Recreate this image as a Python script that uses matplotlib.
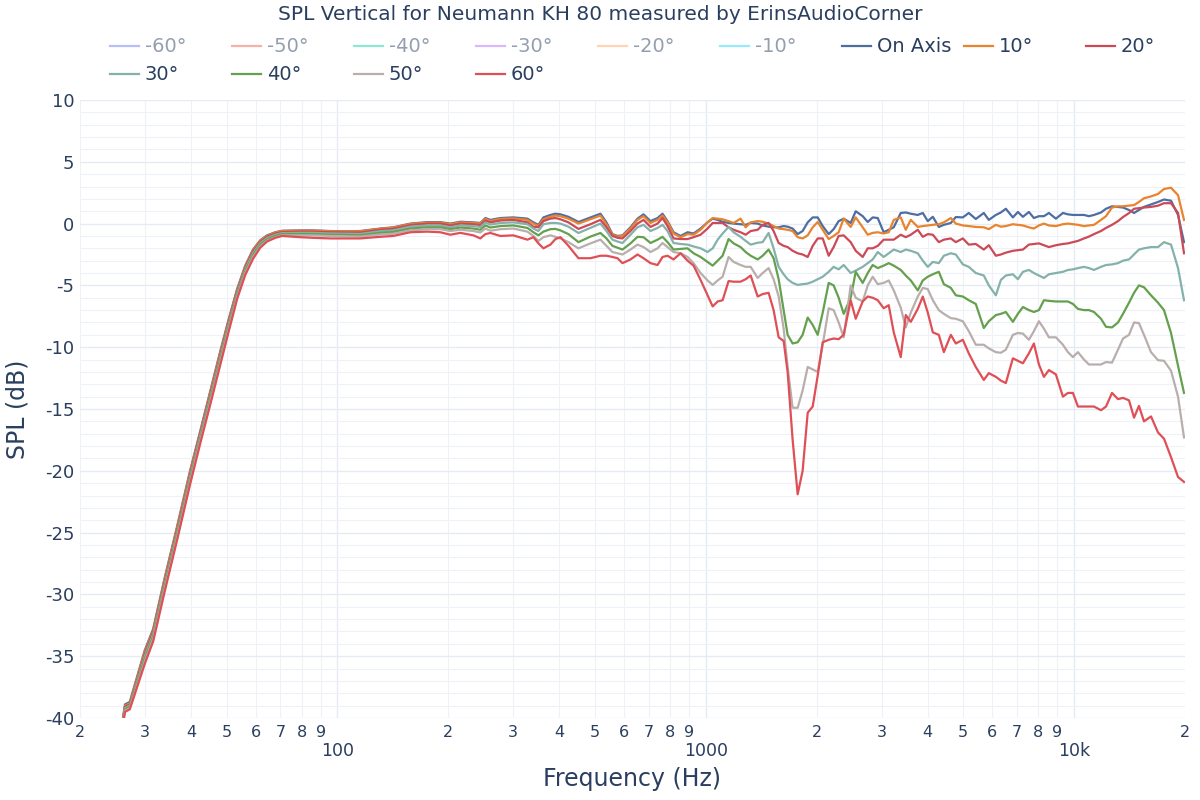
import matplotlib.pyplot as plt
from matplotlib.lines import Line2D

# frequency grid (Hz)
freq = [
    26.2, 26.5, 27.3, 30.0, 31.6, 34.0, 36.7, 39.8, 42.4, 45.1,
    48.0, 50.5, 53.4, 56.2, 59.0, 61.7, 64.4, 67.8, 70.8, 79.2,
    85.9, 95.6, 105.0, 115.3, 130.7, 141.8, 157.7, 175.4, 190.2, 202.5,
    215.6, 233.9, 244.3, 252.1, 260.1, 276.9, 300.3, 327.9, 340.4, 351.2,
    362.4, 378.6, 390.7, 403.1, 423.8, 451.1, 486.3, 517.6,
    537.4, 558, 575.8, 594.1, 624.6, 652.5, 677.5, 707.8, 739.6, 763.1,
    787.3, 817.4, 854.1, 892.3, 926.5, 968, 1011, 1044, 1077, 1111,
    1153, 1190, 1243, 1283, 1324, 1383, 1427, 1481, 1528, 1577,
    1627, 1668, 1721, 1776, 1832, 1891, 1951, 2013, 2077, 2156,
    2224, 2295, 2368, 2474, 2553, 2667, 2752, 2839, 2930, 3041,
    3138, 3238, 3383, 3491, 3602, 3763, 3883, 4006, 4134, 4292,
    4429, 4627, 4773, 4987, 5176, 5408, 5686, 5867, 6131, 6325,
    6526, 6819, 7036, 7260, 7537, 7777, 8025, 8280, 8541, 8923,
    9323, 9620, 9926, 10242, 10634, 10973, 11322, 11829, 12206, 12672,
    13156, 13575, 14093, 14543, 14997, 15476, 16170, 16895, 17540, 18326,
    19147, 19875,
]

spl_on_axis = [
    -39.9, -38.9, -38.7, -34.5, -32.8, -28.6, -24.5, -20.0, -16.8, -13.6,
    -10.4, -7.9, -5.3, -3.4, -2.1, -1.35, -0.95, -0.7, -0.58, -0.55,
    -0.55, -0.6, -0.62, -0.6, -0.4, -0.3, 0.0, 0.12, 0.12, 0.0,
    0.15, 0.1, 0.05, 0.45, 0.3, 0.45, 0.5, 0.4, 0.1, -0.1,
    0.5, 0.7, 0.8, 0.75, 0.55, 0.13, 0.5, 0.8,
    0.1, -0.85, -1.0, -0.95, -0.3, 0.4, 0.75, 0.2, 0.45, 0.8,
    0.2, -0.7, -1.0, -0.7, -0.8, -0.4, 0.1, 0.4, 0.3, 0.15,
    0.05, 0.0, -0.05, -0.1, 0.05, 0.0, -0.15, -0.25, -0.3, -0.3,
    -0.2, -0.25, -0.4, -0.85, -0.6, 0.1, 0.5, 0.5, -0.2, -0.85,
    -0.45, 0.2, 0.4, 0.05, 1.0, 0.6, 0.13, 0.5, 0.45, -0.7,
    -0.5, -0.3, 0.86, 0.9, 0.8, 0.7, 0.86, 0.2, 0.55, -0.27,
    -0.1, 0.05, 0.53, 0.5, 0.86, 0.37, 0.86, 0.3, 0.7, 0.9,
    1.2, 0.5, 0.94, 0.55, 0.94, 0.45, 0.6, 0.6, 0.86, 0.4,
    0.86, 0.75, 0.7, 0.7, 0.7, 0.6, 0.7, 0.9, 1.2, 1.4,
    1.35, 1.3, 1.1, 0.86, 1.1, 1.35, 1.55, 1.75, 1.95, 1.85,
    0.7, -1.5,
]

spl_10 = [
    -39.9, -39.0, -38.8, -34.6, -32.9, -28.7, -24.6, -20.1, -16.9, -13.7,
    -10.5, -8.0, -5.4, -3.45, -2.15, -1.4, -1.0, -0.72, -0.6, -0.57,
    -0.57, -0.62, -0.64, -0.62, -0.42, -0.33, -0.03, 0.08, 0.08, -0.05,
    0.1, 0.05, 0.0, 0.38, 0.22, 0.38, 0.42, 0.3, 0.0, -0.2,
    0.35, 0.55, 0.65, 0.6, 0.4, 0.0, 0.35, 0.65,
    -0.05, -0.9, -1.05, -1.0, -0.4, 0.3, 0.6, 0.05, 0.3, 0.65,
    0.1, -0.8, -1.1, -0.85, -0.9, -0.5, 0.1, 0.45, 0.4, 0.35,
    0.2, 0.05, 0.4, -0.3, 0.1, 0.2, 0.15, 0.0, -0.2, -0.4,
    -0.45, -0.5, -0.6, -1.1, -1.2, -0.95, -0.3, 0.13, -0.5, -1.25,
    -1.0, -0.7, 0.4, -0.27, 0.5, -0.3, -0.9, -0.75, -0.7, -0.8,
    -0.7, 0.3, 0.5, -0.5, 0.3, -0.27, -0.2, -0.15, -0.1, -0.05,
    0.1, 0.45, 0.0, -0.15, -0.2, -0.27, -0.3, -0.45, -0.1, -0.25,
    -0.2, -0.05, -0.1, -0.15, -0.3, -0.4, -0.15, 0.0, -0.15, -0.2,
    -0.05, 0.0, -0.05, -0.1, -0.2, -0.15, -0.1, 0.3, 0.6, 1.3,
    1.4, 1.4, 1.45, 1.5, 1.75, 2.05, 2.2, 2.4, 2.8, 2.9,
    2.3, 0.3,
]

spl_20 = [
    -40.0, -39.1, -38.9, -34.8, -33.0, -28.9, -24.8, -20.3, -17.0, -13.9,
    -10.7, -8.1, -5.5, -3.55, -2.25, -1.5, -1.08, -0.8, -0.68, -0.65,
    -0.65, -0.7, -0.72, -0.72, -0.5, -0.42, -0.12, 0.0, 0.0, -0.15,
    0.0, -0.05, -0.12, 0.25, 0.1, 0.25, 0.3, 0.1, -0.25, -0.3,
    0.2, 0.4, 0.45, 0.35, 0.1, -0.43, -0.05, 0.3,
    -0.3, -1.0, -1.15, -1.2, -0.6, 0.0, 0.3, -0.27, 0.0, 0.45,
    -0.2, -1.2, -1.25, -1.25, -1.1, -0.9, -0.4, 0.05, 0.05, 0.05,
    -0.3, -0.5, -0.7, -0.9, -0.6, -0.5, -0.1, 0.05, -0.6, -1.57,
    -1.8, -1.9, -2.2, -2.4, -2.5, -2.7, -1.8, -1.2, -1.2, -2.6,
    -1.9, -1.0, -0.95, -1.5, -2.2, -2.7, -2.0, -2.0, -1.8, -1.3,
    -1.3, -1.3, -0.9, -1.1, -0.9, -0.5, -1.07, -0.85, -0.9, -1.5,
    -1.3, -1.2, -1.5, -1.2, -1.7, -1.65, -2.1, -1.75, -2.6, -2.5,
    -2.35, -2.2, -2.15, -2.1, -1.7, -1.65, -1.6, -1.75, -1.9, -1.75,
    -1.65, -1.6, -1.5, -1.4, -1.2, -1.05, -0.85, -0.6, -0.35, -0.1,
    0.2, 0.53, 0.85, 1.2, 1.25, 1.3, 1.35, 1.45, 1.65, 1.65,
    0.86, -2.4,
]

spl_30 = [
    -40.1, -39.2, -39.0, -35.0, -33.2, -29.1, -25.0, -20.5, -17.2, -14.1,
    -10.9, -8.3, -5.65, -3.7, -2.4, -1.6, -1.18, -0.9, -0.77, -0.75,
    -0.75, -0.8, -0.82, -0.84, -0.62, -0.55, -0.25, -0.15, -0.15, -0.3,
    -0.15, -0.2, -0.28, 0.08, -0.08, 0.05, 0.1, -0.05, -0.4, -0.6,
    -0.05, 0.05, 0.05, 0.0, -0.25, -0.76, -0.35, 0.0,
    -0.6, -1.3, -1.45, -1.57, -0.9, -0.3, -0.1, -0.6, -0.35, -0.1,
    -0.6, -1.57, -1.65, -1.7, -1.85, -2.0, -2.3, -2.0, -1.3, -0.8,
    -0.27, -0.7, -1.07, -1.4, -1.7, -1.55, -1.5, -0.76, -2.0, -3.5,
    -4.1, -4.5, -4.8, -4.96, -4.9, -4.85, -4.7, -4.5, -4.3, -3.9,
    -3.5, -3.7, -3.35, -4.0, -3.8, -3.5, -3.2, -2.9, -2.3, -2.7,
    -2.4, -2.1, -2.3, -2.1, -2.2, -2.4, -3.0, -3.5, -3.1, -3.2,
    -2.6, -2.4, -2.5, -3.3, -3.5, -4.0, -4.2, -5.0, -5.8, -4.56,
    -4.2, -4.1, -4.5, -3.9, -3.75, -4.0, -4.2, -4.4, -4.1, -4.0,
    -3.9, -3.75, -3.7, -3.6, -3.5, -3.6, -3.75, -3.5, -3.35, -3.3,
    -3.2, -3.0, -2.9, -2.5, -2.1, -2.0, -1.9, -1.9, -1.5, -1.7,
    -3.6, -6.2,
]

spl_40 = [
    -40.2, -39.3, -39.1, -35.2, -33.4, -29.3, -25.2, -20.7, -17.4, -14.3,
    -11.1, -8.5, -5.8, -3.85, -2.55, -1.72, -1.28, -1.0, -0.85, -0.85,
    -0.85, -0.9, -0.92, -0.95, -0.75, -0.68, -0.4, -0.3, -0.3, -0.45,
    -0.32, -0.4, -0.5, -0.15, -0.32, -0.2, -0.15, -0.35, -0.7, -0.95,
    -0.65, -0.45, -0.43, -0.55, -0.85, -1.5, -1.05, -0.76,
    -1.2, -1.8, -1.95, -2.1, -1.6, -1.07, -1.1, -1.57, -1.3, -1.07,
    -1.5, -2.1, -2.05, -2.0, -2.4, -2.7, -3.1, -3.4, -3.0, -2.6,
    -1.25, -1.6, -1.9, -2.3, -2.6, -2.9, -2.6, -2.1, -2.8, -4.5,
    -7.0, -9.0, -9.7, -9.6, -9.0, -7.6, -8.2, -9.0, -7.2, -4.8,
    -5.0, -6.0, -7.3, -6.0, -3.9, -4.8, -4.0, -3.35, -3.6, -3.4,
    -3.2, -3.4, -3.75, -4.2, -4.6, -5.4, -4.6, -4.3, -4.1, -3.9,
    -4.9, -5.2, -5.8, -5.9, -6.2, -6.5, -8.45, -7.9, -7.4, -7.3,
    -7.15, -7.95, -7.3, -6.75, -7.0, -7.15, -7.0, -6.2, -6.25, -6.3,
    -6.3, -6.3, -6.5, -6.9, -7.0, -7.0, -7.15, -7.7, -8.35, -8.4,
    -8.0, -7.3, -6.4, -5.6, -5.0, -5.15, -5.8, -6.4, -7.0, -8.85,
    -11.5, -13.7,
]

spl_50 = [
    -40.3, -39.4, -39.2, -35.4, -33.6, -29.5, -25.4, -20.9, -17.6, -14.5,
    -11.3, -8.7, -5.95, -4.0, -2.7, -1.85, -1.38, -1.1, -0.95, -0.95,
    -0.95, -1.0, -1.02, -1.05, -0.88, -0.82, -0.55, -0.45, -0.45, -0.6,
    -0.5, -0.6, -0.72, -0.4, -0.58, -0.45, -0.4, -0.65, -1.0, -1.4,
    -1.1, -0.95, -1.07, -1.2, -1.5, -2.0, -1.6, -1.3,
    -1.8, -2.3, -2.4, -2.5, -2.1, -1.7, -1.9, -2.3, -2.0, -1.57,
    -1.9, -2.3, -2.4, -2.7, -3.2, -4.0, -4.6, -4.96, -4.6, -4.3,
    -2.7, -3.1, -3.35, -3.5, -3.5, -4.4, -4.0, -3.6, -4.5, -5.9,
    -8.5, -11.6, -14.9, -14.9, -13.5, -11.6, -11.8, -12.0, -9.8, -6.85,
    -7.0, -8.0, -9.2, -5.0, -6.0, -6.3, -5.0, -4.3, -4.9, -4.8,
    -4.6, -5.4, -6.8, -8.4, -7.2, -5.9, -5.2, -5.3, -6.2, -7.0,
    -7.3, -7.65, -7.7, -7.9, -8.7, -9.8, -9.8, -10.1, -10.4, -10.45,
    -10.2, -9.0, -8.85, -8.9, -9.4, -8.7, -7.9, -8.5, -9.2, -9.2,
    -9.8, -10.4, -10.8, -10.4, -11.0, -11.4, -11.4, -11.4, -11.2, -11.25,
    -10.2, -9.3, -9.0, -8.0, -8.05, -9.0, -10.4, -11.05, -11.1, -11.9,
    -14.0, -17.3,
]

spl_60 = [
    -40.4, -39.5, -39.3, -35.6, -33.8, -29.7, -25.6, -21.1, -17.8, -14.7,
    -11.5, -8.9, -6.1, -4.15, -2.85, -1.95, -1.45, -1.15, -1.0, -1.1,
    -1.15, -1.2, -1.2, -1.2, -1.07, -1.0, -0.7, -0.65, -0.7, -0.9,
    -0.75, -0.95, -1.2, -0.85, -0.76, -1.0, -0.95, -1.3, -1.1, -1.6,
    -2.0, -1.7, -1.25, -1.1, -1.8, -2.8, -2.8, -2.6,
    -2.6, -2.7, -2.8, -3.2, -2.9, -2.5, -2.8, -3.2, -3.35, -2.7,
    -2.6, -2.9, -2.4, -3.0, -3.4, -4.56, -5.8, -6.7, -6.3, -6.2,
    -4.65, -4.7, -4.7, -4.5, -4.2, -5.9, -5.7, -5.6, -7.0, -9.2,
    -9.5, -12.0, -17.5, -21.9, -20.0, -15.3, -14.8, -12.3, -9.6, -9.4,
    -9.3, -9.35, -9.0, -6.2, -7.7, -6.3, -5.9, -6.0, -6.2, -6.85,
    -6.6, -8.8, -10.8, -7.4, -7.95, -6.9, -5.9, -7.2, -8.8, -9.0,
    -10.4, -9.0, -9.7, -9.4, -10.5, -11.6, -12.65, -12.1, -12.4, -12.7,
    -12.9, -10.9, -11.1, -11.3, -10.5, -9.7, -11.4, -12.4, -11.85, -12.2,
    -14.0, -13.7, -13.7, -14.8, -14.8, -14.8, -14.8, -15.1, -14.8, -13.7,
    -14.2, -14.1, -14.3, -15.7, -14.75, -16.0, -15.6, -16.9, -17.4, -18.9,
    -20.5, -20.9,
]

visible = [
    ("On Axis", spl_on_axis, "#4e6ea3"),
    ("10°", spl_10, "#e8832e"),
    ("20°", spl_20, "#cc4a57"),
    ("30°", spl_30, "#84b2aa"),
    ("40°", spl_40, "#64a04e"),
    ("50°", spl_50, "#b8afad"),
    ("60°", spl_60, "#df4f55"),
]
hidden = [
    ("-60°", "#636efa"), ("-50°", "#ef553b"), ("-40°", "#00cc96"),
    ("-30°", "#ab63fa"), ("-20°", "#ffa15a"), ("-10°", "#19d3f3"),
]

txt = "#2a3f5f"
plt.rcParams['font.family'] = ['DejaVu Sans']

fig = plt.figure(figsize=(12, 8), dpi=100)
ax = fig.add_axes([80 / 1200, 82 / 800, 1105 / 1200, 618 / 800])

for name, vals, color in visible:
    ax.plot(freq, vals, color=color, lw=1.6, solid_joinstyle='round')

ax.set_xscale('log')
ax.set_xlim(20, 20000)
ax.set_ylim(-40, 10)

major_x = [100, 1000, 10000]
minor_x = [d * 10 ** e for e in (1, 2, 3) for d in range(2, 10)] + [20000]
ax.set_xticks(major_x, ["100", "1000", "10k"])
ax.set_xticks(minor_x, [str(v)[0] for v in minor_x], minor=True)
ax.set_yticks(range(-40, 11, 5), [str(v) for v in range(-40, 11, 5)])
ax.set_yticks(range(-40, 11, 1), minor=True)
ax.tick_params(axis='x', which='major', length=0, pad=17, labelsize=12.5, labelcolor=txt)
ax.tick_params(axis='x', which='minor', length=0, pad=5, labelsize=11.5, labelcolor=txt)
ax.tick_params(axis='y', which='both', length=0, pad=4, labelsize=13, labelcolor=txt)
ax.yaxis.set_tick_params(which='minor', labelleft=False)

ax.grid(True, which='major', color='#e6ebf3', lw=1)
ax.grid(True, which='minor', color='#eef2f8', lw=0.8)
ax.set_axisbelow(True)
for s in ax.spines.values():
    s.set_visible(False)

fig.text(600 / 1200, 1 - 15 / 800, "SPL Vertical for Neumann KH 80 measured by ErinsAudioCorner",
         ha='center', va='center', fontsize=14.5, color=txt)
fig.text(632 / 1200, 1 - 779 / 800, "Frequency (Hz)", ha='center', va='center',
         fontsize=17, color=txt)
fig.text(18 / 1200, 1 - 409 / 800, "SPL (dB)", ha='center', va='center',
         rotation=90, fontsize=17, color=txt)

# legend, laid out like the plotly horizontal legend
entries = [(n, c, 0.45) for n, c in hidden] + [(n, c, 1.0) for n, _, c in visible]
for i, (name, color, alpha) in enumerate(entries):
    row, col = divmod(i, 9)
    x0 = 110 + col * 122
    y0 = 46 + row * 28
    fig.add_artist(Line2D([x0 / 1200, (x0 + 29) / 1200], [1 - y0 / 800] * 2,
                          transform=fig.transFigure, color=color, lw=1.6, alpha=alpha))
    fig.text((x0 + 35) / 1200, 1 - y0 / 800, name, ha='left', va='center',
             fontsize=14, color=txt, alpha=0.5 if alpha < 1 else 1.0)

fig.savefig("out.png", dpi=100)
